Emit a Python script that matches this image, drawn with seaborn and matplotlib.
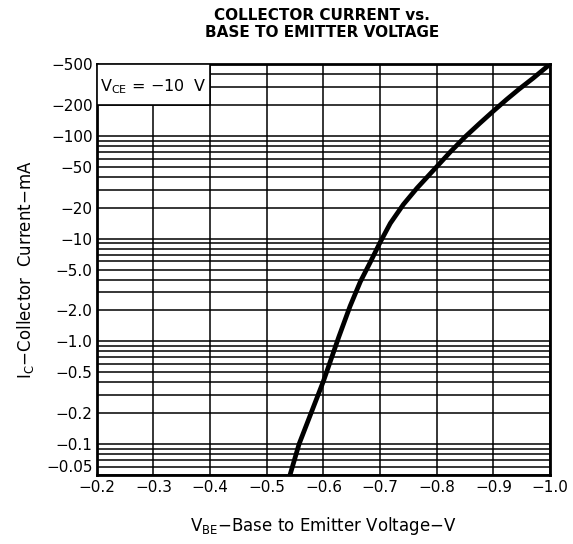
import seaborn as sns
from matplotlib import pyplot as plt
from matplotlib.patches import Rectangle
from matplotlib.ticker import LogLocator, NullFormatter, FixedLocator
import pandas as pd

# curve (magnitudes; the sign is shown in the labels)
vbe = [0.541, 0.557, 0.600, 0.627, 0.647, 0.665, 0.682, 0.700, 0.718, 0.741,
       0.765, 0.792, 0.824, 0.850, 0.876, 0.900, 0.923, 0.945, 0.970, 0.995]
ic_ma = [0.05, 0.10, 0.41, 1.1, 2.2, 3.8, 5.8, 9.2, 14.1, 21.5,
         31, 45, 70, 98, 133, 175, 226, 285, 365, 475]

x_ticks = [0.2, 0.3, 0.4, 0.5, 0.6, 0.7, 0.8, 0.9, 1.0]
x_labels = ['−0.2', '−0.3', '−0.4', '−0.5', '−0.6', '−0.7', '−0.8', '−0.9', '−1.0']
y_ticks = [0.05, 0.1, 0.2, 0.5, 1, 2, 5, 10, 20, 50, 100, 200, 500]
y_labels = ['−0.05', '−0.1', '−0.2', '−0.5', '−1.0', '−2.0', '−5.0',
            '−10', '−20', '−50', '−100', '−200', '−500']

df = pd.DataFrame({'VBE': vbe, 'IC': ic_ma})

sns.set_style('white')
plt.rcParams['font.family'] = ['DejaVu Sans']
for key in ['text.color', 'axes.labelcolor', 'xtick.color', 'ytick.color']:
    plt.rcParams[key] = 'black'

fig = plt.figure(figsize=(5.73, 5.44), dpi=100)
ax = fig.add_axes([0.169, 0.127, 0.791, 0.755])

sns.lineplot(data=df, x='VBE', y='IC', color='black', lw=3.4, ax=ax, zorder=4)
ax.lines[0].set_solid_joinstyle('round')

ax.set_yscale('log')
ax.set_xlim(0.2, 1.0)
ax.set_ylim(0.05, 500)

ax.xaxis.set_major_locator(FixedLocator(x_ticks))
ax.set_xticklabels(x_labels, fontsize=11)
ax.yaxis.set_major_locator(FixedLocator(y_ticks))
ax.set_yticklabels(y_labels, fontsize=11)
ax.yaxis.set_minor_locator(LogLocator(base=10, subs=range(2, 10)))
ax.yaxis.set_minor_formatter(NullFormatter())
ax.tick_params(which='both', length=0)
ax.tick_params(axis='x', pad=4)
ax.tick_params(axis='y', pad=3)
# bottom label sits a little above its line, as on the datasheet
ax.get_yticklabels()[0].set_verticalalignment('bottom')

# grid: every 1..9 step of each decade plus the verticals
ax.grid(which='both', axis='y', color='black', lw=1.1)
ax.grid(which='major', axis='x', color='black', lw=1.1)

for s in ax.spines.values():
    s.set_color('black')
    s.set_linewidth(2)

# condition box in the top-left corner
ax.add_patch(Rectangle((0.2, 200), 0.2, 300, facecolor='white', edgecolor='black',
                       lw=1.2, zorder=3))
ax.text(0.205, 300, r'V$_\mathregular{CE}$ = −10  V', fontsize=11.5, va='center',
        ha='left', zorder=5)

ax.set_xlabel(r'V$_\mathregular{BE}$−Base to Emitter Voltage−V', fontsize=12, labelpad=14)
ax.set_ylabel(r'I$_\mathregular{C}$−Collector  Current−mA', fontsize=12, labelpad=7)

fig.text(0.562, 0.956, 'COLLECTOR CURRENT vs.\nBASE TO EMITTER VOLTAGE', ha='center',
         va='center', fontsize=11, fontweight='bold', linespacing=1.2)

fig.savefig('out.png', dpi=100)
